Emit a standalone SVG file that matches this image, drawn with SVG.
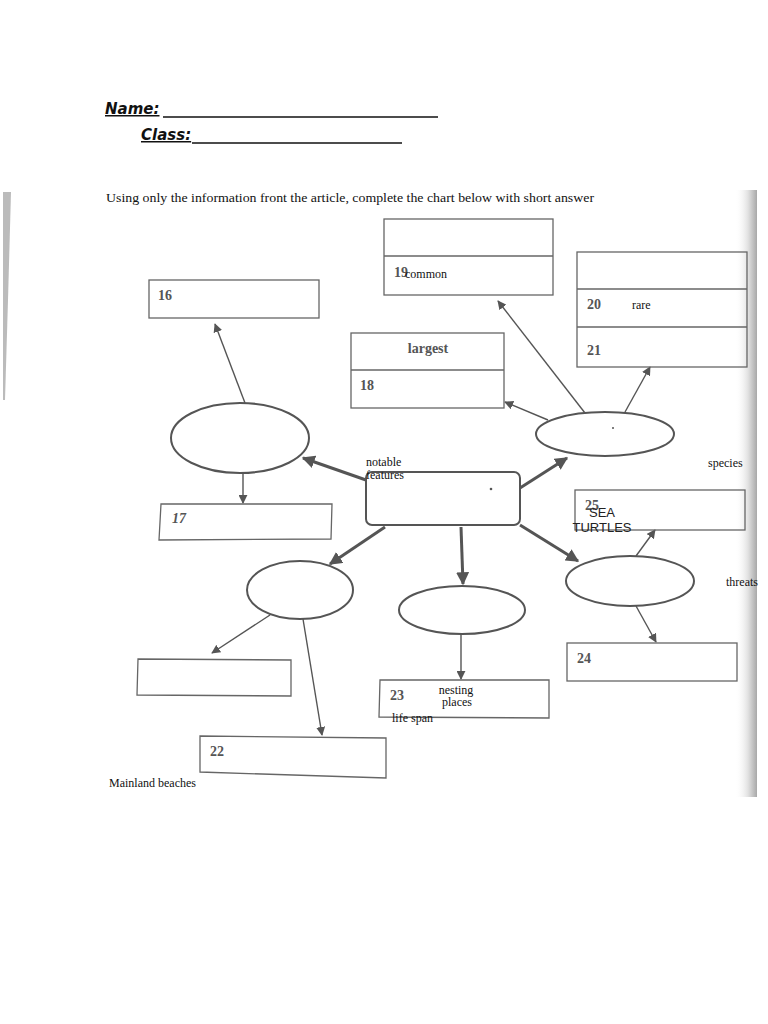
<svg xmlns="http://www.w3.org/2000/svg" width="768" height="1024" viewBox="0 0 768 1024">
<defs>
<linearGradient id="rg" x1="0" y1="0" x2="1" y2="0">
<stop offset="0" stop-color="#ffffff" stop-opacity="0"/>
<stop offset="0.6" stop-color="#e0e0e0"/>
<stop offset="1" stop-color="#a8a8a8"/>
</linearGradient>
<marker id="ah" viewBox="0 0 10 10" refX="9" refY="5" markerWidth="9" markerHeight="9" markerUnits="userSpaceOnUse" orient="auto">
<path d="M0,0 L10,5 L0,10 z" fill="#555"/>
</marker>
<marker id="ahb" viewBox="0 0 10 10" refX="9" refY="5" markerWidth="13" markerHeight="13" markerUnits="userSpaceOnUse" orient="auto">
<path d="M0,0 L10,5 L0,10 z" fill="#555"/>
</marker>
</defs>
<style>
.bx{fill:none;stroke:#666;stroke-width:1.3}
.el{fill:none;stroke:#555;stroke-width:2}
.thin{stroke:#555;stroke-width:1.4;fill:none;marker-end:url(#ah)}
.thick{stroke:#555;stroke-width:3;fill:none;marker-end:url(#ahb)}
.num{font-family:"Liberation Serif",serif;font-weight:bold;font-size:14px;fill:#555}
.lbl{font-family:"Liberation Serif",serif;font-size:12px;fill:#111}
.hd{font-family:"DejaVu Sans",sans-serif;font-style:italic;font-weight:bold;font-size:15px;fill:#111}
</style>
<rect width="768" height="1024" fill="#fff"/>
<!-- scanned page edges -->
<rect x="735" y="190" width="22" height="607" fill="url(#rg)"/>
<polygon points="3,192 11,192 8,300 5,400 3,400" fill="#aaa" opacity="0.8"/>

<g id="header">
<text x="105" y="114" class="hd" text-decoration="underline">Name:</text>
<line x1="163" y1="117" x2="438" y2="117" stroke="#111" stroke-width="1.6"/>
<text x="141" y="140" class="hd" text-decoration="underline">Class:</text>
<line x1="192" y1="143" x2="402" y2="143" stroke="#111" stroke-width="1.3"/>
<text x="106" y="202" font-family="Liberation Serif,serif" font-size="13.5" fill="#111" textLength="488" lengthAdjust="spacingAndGlyphs">Using only the information front the article, complete the chart below with short answer</text>
</g>

<g id="connectors">
<line x1="245" y1="403" x2="215" y2="324" class="thin"/>
<line x1="243" y1="473" x2="243" y2="503" class="thin"/>
<line x1="366" y1="480" x2="303" y2="458" class="thick"/>
<line x1="520" y1="488" x2="567" y2="458" class="thick"/>
<line x1="548" y1="420" x2="505" y2="402" class="thin"/>
<line x1="585" y1="413" x2="498" y2="301" class="thin"/>
<line x1="625" y1="412" x2="650" y2="367" class="thin"/>
<line x1="461" y1="527" x2="463" y2="584" class="thick"/>
<line x1="385" y1="527" x2="330" y2="564" class="thick"/>
<line x1="520" y1="525" x2="578" y2="561" class="thick"/>
<line x1="636" y1="556" x2="655" y2="530" class="thin"/>
<line x1="636" y1="606" x2="656" y2="642" class="thin"/>
<line x1="461" y1="635" x2="461" y2="679" class="thin"/>
<line x1="270" y1="615" x2="212" y2="653" class="thin"/>
<line x1="303" y1="619" x2="322" y2="735" class="thin"/>
</g>

<g id="box19">
<rect x="384" y="219" width="169" height="76" class="bx"/>
<line x1="384" y1="256" x2="553" y2="256" class="bx"/>
<text x="394" y="277" class="num">19</text>
<text x="405" y="278" class="lbl">common</text>
</g>
<g id="box20-21">
<rect x="577" y="252" width="170" height="115" class="bx"/>
<line x1="577" y1="289" x2="747" y2="289" class="bx"/>
<line x1="577" y1="327" x2="747" y2="327" class="bx"/>
<text x="587" y="309" class="num">20</text>
<text x="632" y="309" class="lbl" font-size="11">rare</text>
<text x="587" y="355" class="num">21</text>
</g>
<g id="box16">
<rect x="149" y="280" width="170" height="38" class="bx"/>
<text x="158" y="300" class="num">16</text>
</g>
<g id="box18">
<rect x="351" y="333" width="153" height="75" class="bx"/>
<line x1="351" y1="370" x2="504" y2="370" class="bx"/>
<text x="428" y="353" class="num" text-anchor="middle">largest</text>
<text x="360" y="390" class="num">18</text>
</g>
<g id="ellipse-left">
<ellipse cx="240" cy="438" rx="69" ry="35" class="el"/>
</g>
<g id="ellipse-species">
<ellipse cx="605" cy="434" rx="69" ry="22" class="el"/>
<circle cx="613" cy="428" r="1" fill="#555"/>
</g>
<g id="center">
<rect x="366" y="472" width="154" height="53" rx="6" class="el"/>
<circle cx="491" cy="489" r="1.3" fill="#555"/>
<text x="366" y="466" class="lbl">notable</text>
<text x="366" y="479" class="lbl">features</text>
</g>
<g id="label-species"><text x="708" y="467" class="lbl">species</text></g>
<g id="box25">
<rect x="575" y="490" width="170" height="40" class="bx"/>
<text x="585" y="510" class="num">25</text>
<text x="602" y="517" font-family="Liberation Sans,sans-serif" font-size="13" fill="#222" text-anchor="middle">SEA</text>
<text x="602" y="532" font-family="Liberation Sans,sans-serif" font-size="13" fill="#222" text-anchor="middle">TURTLES</text>
</g>
<g id="box17">
<polygon points="161,504 332,504 331,539 159,540" class="bx"/>
<text x="172" y="523" class="num" font-style="italic">17</text>
</g>
<g id="ellipse-threats">
<ellipse cx="630" cy="581" rx="64" ry="25" class="el"/>
</g>
<g id="label-threats"><text x="726" y="586" class="lbl">threats</text></g>
<g id="ellipse-nesting">
<ellipse cx="462" cy="610" rx="63" ry="24" class="el"/>
</g>
<g id="ellipse-bl">
<ellipse cx="300" cy="590" rx="53" ry="29" class="el"/>
</g>
<g id="box24">
<rect x="567" y="643" width="170" height="38" class="bx"/>
<text x="577" y="663" class="num">24</text>
</g>
<g id="box23">
<polygon points="380,680 549,680 549,718 379,717" class="bx"/>
<text x="390" y="700" class="num">23</text>
<text x="456" y="694" class="lbl" text-anchor="middle">nesting</text>
<text x="457" y="706" class="lbl" text-anchor="middle">places</text>
<text x="392" y="722" class="lbl">life span</text>
</g>
<g id="box-empty">
<polygon points="138,659 291,660 291,696 137,695" class="bx"/>
</g>
<g id="box22">
<polygon points="200,736 386,738 386,778 200,772" class="bx"/>
<text x="210" y="756" class="num">22</text>
</g>
<g id="label-mainland"><text x="109" y="787" class="lbl">Mainland beaches</text></g>
</svg>
